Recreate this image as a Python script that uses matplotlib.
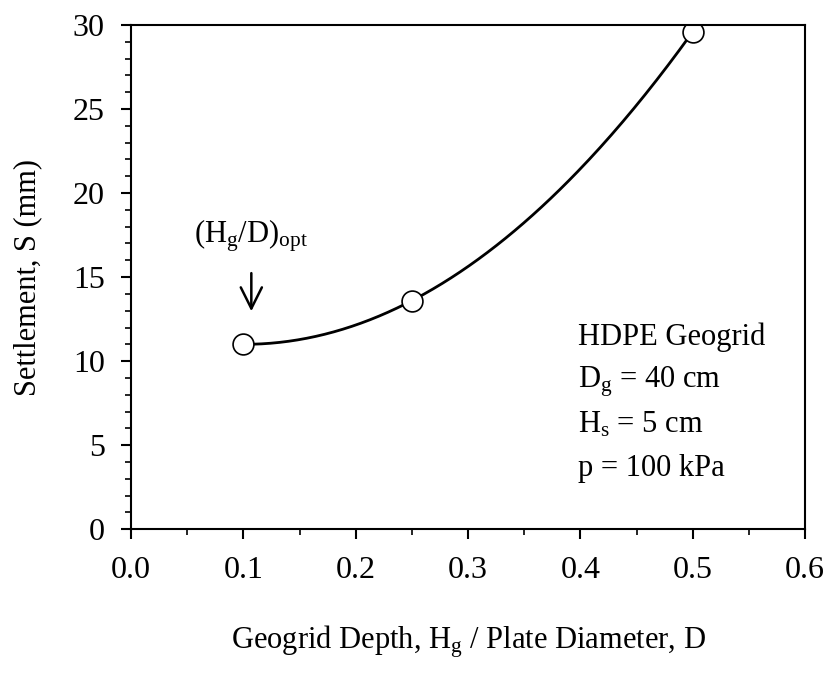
import numpy as np
import matplotlib
matplotlib.use("Agg")
import matplotlib.pyplot as plt
from matplotlib.ticker import MultipleLocator

plt.rcParams['font.family'] = ['Liberation Serif', 'DejaVu Serif']
plt.rcParams['mathtext.fontset'] = 'custom'
plt.rcParams['mathtext.rm'] = 'Liberation Serif'
plt.rcParams['mathtext.it'] = 'Liberation Serif:italic'

# depth ratio Hg/D and settlement (mm)
depth_ratio = [0.1, 0.25, 0.5]
settlement = [11.0, 13.6, 29.6]

x_ticks = [0.0, 0.1, 0.2, 0.3, 0.4, 0.5, 0.6]
y_ticks = [0, 5, 10, 15, 20, 25, 30]

fig = plt.figure(figsize=(8.3, 6.75), dpi=100)
ax = fig.add_axes([0.158, 0.216, 0.812, 0.747])

# smooth trend curve through the measured points
coef = np.polyfit(depth_ratio, settlement, 2)
xs = np.linspace(depth_ratio[0], depth_ratio[-1], 200)
ax.plot(xs, np.polyval(coef, xs), color='black', lw=2)
ax.plot(depth_ratio, settlement, 'o', ms=15, mfc='white', mec='black', mew=1.2)

ax.set_xlim(0, 0.6)
ax.set_ylim(0, 30)
ax.set_xticks(x_ticks)
ax.set_yticks(y_ticks)
ax.set_xticklabels(['%.1f' % v for v in x_ticks])
ax.xaxis.set_minor_locator(MultipleLocator(0.05))
ax.yaxis.set_minor_locator(MultipleLocator(1))
ax.tick_params(which='major', direction='out', length=7, width=1.5, labelsize=23, pad=12)
ax.tick_params(which='minor', direction='out', length=4, width=1.2)
for s in ax.spines.values():
    s.set_linewidth(1.5)

ax.set_xlabel(r'Geogrid Depth, H$_\mathrm{g}$ / Plate Diameter, D', fontsize=22, labelpad=28)
ax.set_ylabel('Settlement, S (mm)', fontsize=22, labelpad=22)

ax.annotate('', xy=(0.107, 12.8), xytext=(0.107, 15.4),
            arrowprops=dict(arrowstyle='->', color='black', lw=1.8, mutation_scale=38))
ax.text(0.107, 16.4, r'(H$_\mathrm{g}$/D)$_\mathrm{opt}$', fontsize=22, ha='center', va='bottom')

info = ['HDPE Geogrid', r'D$_\mathrm{g}$ = 40 cm', r'H$_\mathrm{s}$ = 5 cm', 'p = 100 kPa']
for i, line in enumerate(info):
    ax.text(0.398, 11.4 - i * 2.6, line, fontsize=22, ha='left', va='center')

fig.savefig('out.png', dpi=100)
